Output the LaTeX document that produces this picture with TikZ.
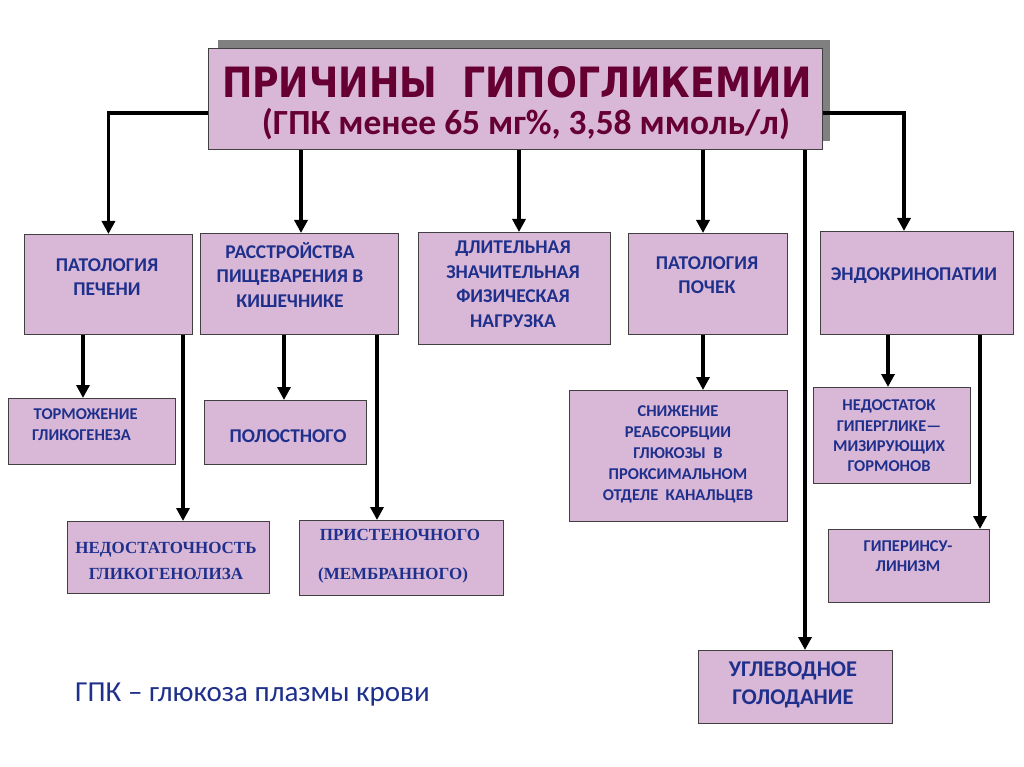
\documentclass[tikz,border=0pt]{standalone}
\usepackage{fontspec}
\setmainfont{Carlito}
\newfontfamily\titlefont{DejaVu Sans}
\newfontfamily\timesfont{Liberation Serif}
\usetikzlibrary{arrows.meta}
\definecolor{boxfill}{RGB}{217,184,215}
\definecolor{txtblue}{RGB}{30,48,140}
\definecolor{maroon}{RGB}{102,0,51}
\definecolor{shadowgray}{RGB}{128,128,128}
\begin{document}
\begin{tikzpicture}[x=1pt,y=-1pt,
  box/.style={draw=black!75,line width=0.9pt,fill=boxfill,anchor=north west,inner sep=0pt},
  txt/.style={text=txtblue,font=\bfseries,align=center,inner sep=0pt},
  big/.style={txt,font=\fontsize{19.5}{24.5}\selectfont\bfseries},
  small/.style={txt,font=\fontsize{16.5}{21}\selectfont\bfseries},
  serifbig/.style={txt,font=\fontsize{17}{26}\selectfont\timesfont\bfseries},
  arr/.style={line width=3.5pt,line join=miter,-{Triangle[width=13pt,length=13pt]}}]
\useasboundingbox[fill=white] (0,0) rectangle (1024,767);
% title with shadow
\fill[shadowgray] (218,40) rectangle (830,141);
\node[box,minimum width=614pt,minimum height=101pt] (title) at (208,48) {};
\node[anchor=base,inner sep=0pt,text=maroon] (t1) at (517,98)
  {\resizebox{590pt}{31pt}{\titlefont\bfseries ПРИЧИНЫ\ \ ГИПОГЛИКЕМИИ}};
\node[anchor=base,inner sep=0pt,text=maroon] (t2) at (526,135)
  {\resizebox{528pt}{!}{\bfseries (ГПК менее 65 мг\%, 3,58 ммоль/л)}};
% first row boxes
\node[box,minimum width=168pt,minimum height=100pt] (liver) at (24,234) {};
\node[box,minimum width=198pt,minimum height=101pt] (digest) at (200,233) {};
\node[box,minimum width=192pt,minimum height=112pt] (exer) at (418,232) {};
\node[box,minimum width=159pt,minimum height=101pt] (kidney) at (628,233) {};
\node[box,minimum width=193pt,minimum height=103pt] (endo) at (820,231) {};
% second row boxes
\node[box,minimum width=167pt,minimum height=66pt] (torm) at (8,398) {};
\node[box,minimum width=202pt,minimum height=72pt] (nedost) at (67,521) {};
\node[box,minimum width=162pt,minimum height=64pt] (polost) at (204,400) {};
\node[box,minimum width=204pt,minimum height=75pt] (prist) at (299,520) {};
\node[box,minimum width=218pt,minimum height=131pt] (snizh) at (569,390) {};
\node[box,minimum width=157pt,minimum height=96pt] (horm) at (813,387) {};
\node[box,minimum width=161pt,minimum height=73pt] (hyper) at (828,529) {};
\node[box,minimum width=194pt,minimum height=73pt] (uglev) at (698,650) {};
% texts
\node[big] (liverT) at (107,277) {ПАТОЛОГИЯ\\ПЕЧЕНИ};
\node[big] (digestT) at (290,275) {РАССТРОЙСТВА\\ПИЩЕВАРЕНИЯ В\\КИШЕЧНИКЕ};
\node[big] (exerT) at (513,284) {ДЛИТЕЛЬНАЯ\\ЗНАЧИТЕЛЬНАЯ\\ФИЗИЧЕСКАЯ\\НАГРУЗКА};
\node[big] (kidneyT) at (707,275) {ПАТОЛОГИЯ\\ПОЧЕК};
\node[big] (endoT) at (914,276) {ЭНДОКРИНОПАТИИ};
\node[small,align=left,anchor=west] (tormT) at (32,425) {\hspace*{1.5pt}ТОРМОЖЕНИЕ\\ГЛИКОГЕНЕЗА};
\node[big] (polostT) at (288,436) {ПОЛОСТНОГО};
\node[serifbig] (nedostT) at (166,561) {НЕДОСТАТОЧНОСТЬ\\ГЛИКОГЕНОЛИЗА};
\node[serifbig,font=\fontsize{17}{39}\selectfont\timesfont\bfseries] (pristT) at (400,556) {ПРИСТЕНОЧНОГО\\(МЕМБРАННОГО)\hspace*{14pt}};
\node[small] (snizhT) at (678,454) {СНИЖЕНИЕ\\РЕАБСОРБЦИИ\\ГЛЮКОЗЫ~~В\\ПРОКСИМАЛЬНОМ\\ОТДЕЛЕ~~КАНАЛЬЦЕВ};
\node[small,font=\fontsize{16.5}{20.3}\selectfont\bfseries] (hormT) at (889,436) {НЕДОСТАТОК\\ГИПЕРГЛИКЕ—\\МИЗИРУЮЩИХ\\ГОРМОНОВ};
\node[small,font=\fontsize{16.5}{19.5}\selectfont\bfseries] (hyperT) at (908,556) {ГИПЕРИНСУ-\\ЛИНИЗМ};
\node[big,font=\fontsize{22.5}{28}\selectfont\bfseries] (uglevT) at (793,685) {УГЛЕВОДНОЕ\\ГОЛОДАНИЕ};
\node[anchor=base west,inner sep=0pt,text=txtblue,font=\fontsize{29}{34}\selectfont] (note) at (75,701) {ГПК – глюкоза плазмы крови};
% coordinates for connector columns
\coordinate (h1) at (0,113);
\coordinate (c301) at (301,0);
\coordinate (c519) at (519,0);
\coordinate (c703) at (703,0);
\coordinate (c805) at (805,0);
\coordinate (c904) at (904,0);
\coordinate (c83) at (83,0);
\coordinate (c183) at (183,0);
\coordinate (c284) at (284,0);
\coordinate (c377) at (377,0);
\coordinate (c888) at (888,0);
\coordinate (c980) at (980,0);
% connectors from title
\draw[arr] (title.west |- h1) -| (liver.north);
\draw[arr] (title.south -| c301) -- (digest.north -| c301);
\draw[arr] (title.south -| c519) -- (exer.north -| c519);
\draw[arr] (title.south -| c703) -- (kidney.north -| c703);
\draw[arr] (title.south -| c805) -- (uglev.north -| c805);
\draw[arr] (title.east |- h1) -| (c904 |- endo.north);
% second level
\draw[arr] (liver.south -| c83) -- (torm.north -| c83);
\draw[arr] (liver.south -| c183) -- (nedost.north -| c183);
\draw[arr] (digest.south -| c284) -- (polost.north -| c284);
\draw[arr] (digest.south -| c377) -- (prist.north -| c377);
\draw[arr] (kidney.south -| c703) -- (snizh.north -| c703);
\draw[arr] (endo.south -| c888) -- (horm.north -| c888);
\draw[arr] (endo.south -| c980) -- (hyper.north -| c980);
\end{tikzpicture}
\end{document}
